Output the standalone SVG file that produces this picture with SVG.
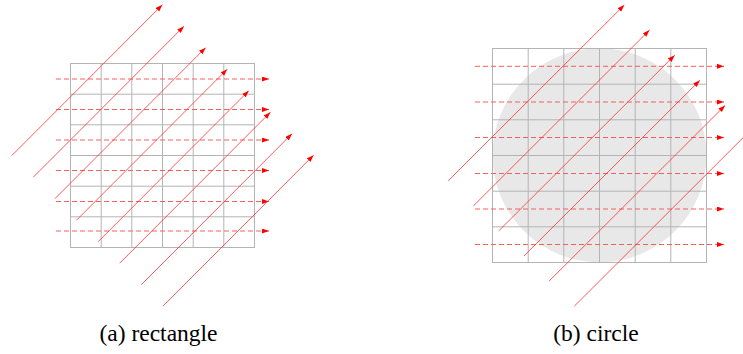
<svg xmlns="http://www.w3.org/2000/svg" width="743" height="354" viewBox="0 0 743 354">
<style>
.grid{fill:none;stroke:#b4b4b4;stroke-width:1}
.ray{stroke:#ff3030;stroke-width:0.8;fill:none;marker-end:url(#ah)}
.dash{stroke:#f06060;stroke-width:1;stroke-dasharray:5 3;fill:none;marker-end:url(#ah)}
.cap{font-family:"Liberation Serif","Times New Roman",serif;font-size:23.5px;fill:#000;text-anchor:middle}
</style>
<defs>
<marker id="ah" markerUnits="userSpaceOnUse" markerWidth="8" markerHeight="6" refX="7" refY="2.5" orient="auto">
<path d="M0,0 L7,2.5 L0,5 z" fill="#ff0000"/>
</marker>
</defs>
<rect width="743" height="354" fill="#fff"/>
<g id="panel-a">
<g id="grid-a" class="grid">
<rect x="70.5" y="63.5" width="184" height="184"/>
<path d="M101.2,63.5V247.5M131.8,63.5V247.5M162.5,63.5V247.5M193.2,63.5V247.5M223.8,63.5V247.5M70.5,94.2H254.5M70.5,124.8H254.5M70.5,155.5H254.5M70.5,186.2H254.5M70.5,216.8H254.5"/>
</g>
<g id="connectors-a">
<line class="dash" x1="56" y1="79" x2="269" y2="79"/>
<line class="dash" x1="56" y1="109.5" x2="269" y2="109.5"/>
<line class="dash" x1="56" y1="140" x2="269" y2="140"/>
<line class="dash" x1="56" y1="170.5" x2="269" y2="170.5"/>
<line class="dash" x1="56" y1="201.5" x2="269" y2="201.5"/>
<line class="dash" x1="56" y1="231" x2="269" y2="231"/>
<line class="ray" x1="11.7" y1="155.7" x2="162.4" y2="4.7"/>
<line class="ray" x1="33.3" y1="177.2" x2="184" y2="26.2"/>
<line class="ray" x1="54.9" y1="198.7" x2="205.6" y2="47.7"/>
<line class="ray" x1="76.5" y1="220.2" x2="227.2" y2="69.2"/>
<line class="ray" x1="98.1" y1="241.7" x2="248.8" y2="90.7"/>
<line class="ray" x1="119.7" y1="263.2" x2="270.4" y2="112.2"/>
<line class="ray" x1="141.3" y1="284.7" x2="292" y2="133.7"/>
<line class="ray" x1="162.9" y1="306.2" x2="313.6" y2="155.2"/>
</g>
<text class="cap" x="158.5" y="341">(a) rectangle</text>
</g>
<g id="panel-b">
<circle id="disk" cx="599.5" cy="155.3" r="107" fill="#e8e8e8"/>
<g id="grid-b" class="grid">
<rect x="492.5" y="48.5" width="214" height="214"/>
<path d="M528.2,48.5V262.5M563.8,48.5V262.5M599.5,48.5V262.5M635.2,48.5V262.5M670.8,48.5V262.5M492.5,84.2H706.5M492.5,119.8H706.5M492.5,155.5H706.5M492.5,191.2H706.5M492.5,226.8H706.5"/>
</g>
<g id="connectors-b">
<line class="dash" x1="475" y1="66.3" x2="724" y2="66.3"/>
<line class="dash" x1="475" y1="102" x2="724" y2="102"/>
<line class="dash" x1="475" y1="137.5" x2="724" y2="137.5"/>
<line class="dash" x1="475" y1="173.5" x2="724" y2="173.5"/>
<line class="dash" x1="475" y1="209" x2="724" y2="209"/>
<line class="dash" x1="475" y1="244.5" x2="724" y2="244.5"/>
<line class="ray" x1="448.3" y1="180.7" x2="624.3" y2="5"/>
<line class="ray" x1="473.5" y1="205.8" x2="649.5" y2="30.1"/>
<line class="ray" x1="498.7" y1="230.9" x2="674.7" y2="55.2"/>
<line class="ray" x1="523.9" y1="256" x2="699.9" y2="80.3"/>
<line class="ray" x1="549.1" y1="281.1" x2="725.1" y2="105.4"/>
<line class="ray" x1="574.3" y1="306.2" x2="750.3" y2="130.5"/>
</g>
<text class="cap" x="596" y="341">(b) circle</text>
</g>
</svg>
